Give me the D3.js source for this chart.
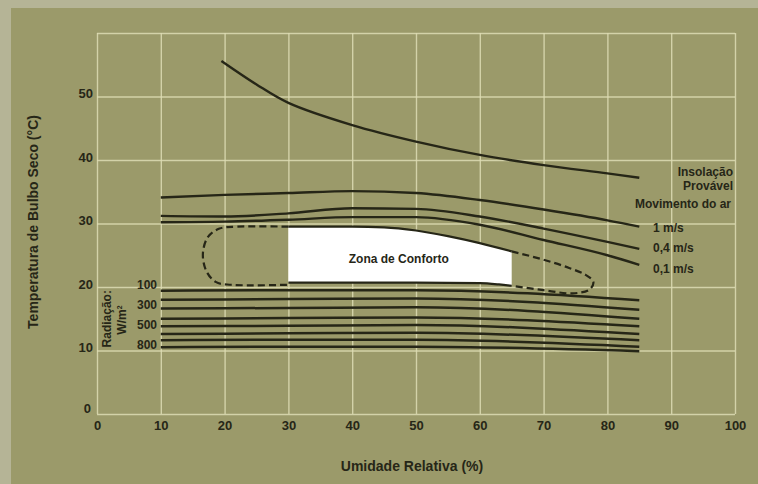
<!DOCTYPE html>
<html><head><meta charset="utf-8">
<script src="https://cdn.jsdelivr.net/npm/d3@7"></script>
<style>html,body{margin:0;padding:0;background:#b5b496;} svg{display:block}</style>
</head><body><svg id="c" width="758" height="484"></svg>
<script>
// ---- data ----
const xTicks = [0,10,20,30,40,50,60,70,80,90,100];
const yTicks = [0,10,20,30,40,50];
const yGrid = [0,10,20,30,40,50,60];

const insolX = [19.5,25,30,40,50,60,70,80,85];
const insolY = [55.6,51.9,49.0,45.5,42.9,40.8,39.2,37.9,37.2];

const airX = [10,20,30,40,50,60,70,80,85];
const air1  = [34.1,34.5,34.8,35.1,34.8,33.7,32.2,30.5,29.5];
const air04 = [31.2,31.1,31.6,32.4,32.3,31.1,29.2,27.1,26.0];
const air01 = [30.2,30.3,30.6,31.0,31.0,29.8,27.4,25.0,23.5];
const airLabels = ["1 m/s","0,4 m/s","0,1 m/s"];

const radX = [10,30,50,85];
const radLines = [
  [19.4,19.5,19.5,17.9],
  [18.0,18.1,18.2,16.4],
  [16.6,16.7,16.8,15.0],
  [15.0,15.1,15.2,13.8],
  [13.8,13.9,14.0,12.6],
  [12.6,12.7,12.8,11.6],
  [11.6,11.7,11.7,10.6],
  [10.5,10.6,10.6,9.9]
];
const radLabels = ["100","300","500","800"];
const radLabelY = [20.3,17.2,14.0,10.9];

// comfort zone (white)
const zoneTopX = [30,40,45,50,55,60,65];
const zoneTopY = [29.5,29.5,29.4,28.9,28.0,26.9,25.6];
const zoneBotX = [65,63,60,50,40,30];
const zoneBotY = [20.2,20.4,20.6,20.7,20.7,20.7];

// dashed extension loops
const dashLX = [30,22,19.2,17.4,16.6,17.1,18.6,21,30];
const dashLY = [29.5,29.5,29.2,27.9,25.3,22.6,20.8,20.35,20.35];
const dashRX = [65,70,74,76.6,77.8,77.2,74.5,70,65];
const dashRY = [25.6,24.3,23.0,21.9,20.8,19.6,19.0,19.5,20.2];

// ---- drawing ----
const svg = d3.select("#c");
const W = 758, H = 484;
const x = d3.scaleLinear([0,100],[97,735]);
const y = d3.scaleLinear([0,60],[414,33]);
const ink = "#262617";
const FONT = "'Liberation Sans', Arial, sans-serif";

svg.append("rect").attr("x",11).attr("y",8).attr("width",W-11).attr("height",H-8).attr("fill","#9b9a6a");

// grid
const gridColor = "#dddcb4";
const gx = svg.append("g").attr("transform",`translate(0,${y(0)})`)
  .call(d3.axisBottom(x).tickValues(xTicks).tickSize(-(y(0)-y(60))).tickFormat(""));
const gy = svg.append("g").attr("transform",`translate(${x(0)},0)`)
  .call(d3.axisLeft(y).tickValues(yGrid).tickSize(-(x(100)-x(0))).tickFormat(""));
[gx,gy].forEach(g=>{g.select(".domain").remove();
  g.selectAll("line").attr("stroke",gridColor).attr("stroke-width",1.4).attr("opacity",0.85);});

// tick labels
const ax = svg.append("g").attr("transform",`translate(0,${y(0)})`)
  .call(d3.axisBottom(x).tickValues(xTicks).tickSize(0).tickPadding(7).tickFormat(d3.format("d")));
const ay = svg.append("g").attr("transform",`translate(${x(0)},0)`)
  .call(d3.axisLeft(y).tickValues(yTicks).tickSize(0).tickPadding(4).tickFormat(d3.format("d")));
[ax,ay].forEach(g=>{g.select(".domain").remove();
  g.selectAll("text").attr("fill",ink).attr("font-family",FONT).attr("font-weight","bold").attr("font-size",13);});
ay.selectAll("text").attr("dy","0.1em");
ay.selectAll(".tick").filter(d=>d===0).select("text").attr("dy","-0.1em").attr("x",-6);

const line = d3.line().x(d=>x(d[0])).y(d=>y(d[1])).curve(d3.curveMonotoneX);
const smooth = d3.line().x(d=>x(d[0])).y(d=>y(d[1])).curve(d3.curveCatmullRom.alpha(0.5));
const zip = (a,b)=>a.map((v,i)=>[v,b[i]]);

// comfort zone
const topPath = line(zip(zoneTopX,zoneTopY));
const botPath = line(zip(zoneBotX,zoneBotY));
svg.append("path").attr("d", topPath + "L" + botPath.slice(1) + "Z").attr("fill","#ffffff");
svg.append("path").attr("d", topPath).attr("fill","none").attr("stroke",ink).attr("stroke-width",2.2);
svg.append("path").attr("d", botPath).attr("fill","none").attr("stroke",ink).attr("stroke-width",2.2);

// dashed loops
[[dashLX,dashLY],[dashRX,dashRY]].forEach(([a,b])=>{
  svg.append("path").attr("d",smooth(zip(a,b))).attr("fill","none")
    .attr("stroke",ink).attr("stroke-width",2.2).attr("stroke-dasharray","7,4");
});

// main curves
svg.append("path").attr("d",smooth(zip(insolX,insolY))).attr("fill","none").attr("stroke",ink).attr("stroke-width",2.4);
[air1,air04,air01].forEach(b=>{
  svg.append("path").attr("d",line(zip(airX,b))).attr("fill","none").attr("stroke",ink).attr("stroke-width",2.4);
});
radLines.forEach(r=>{
  svg.append("path").attr("d",line(zip(radX,r))).attr("fill","none").attr("stroke",ink).attr("stroke-width",2.5);
});

// text helpers
function txt(t,xx,yy,opts={}){
  return svg.append("text").text(t).attr("x",xx).attr("y",yy)
    .attr("font-family",FONT).attr("font-weight","bold").attr("font-size",opts.size||12)
    .attr("fill",ink).attr("text-anchor",opts.anchor||"start").attr("dominant-baseline","central");
}
txt("Zona de Conforto", x(47.3), y(24.4), {anchor:"middle"});
txt("Insolação", 733, 172, {anchor:"end"});
txt("Provável", 733, 186, {anchor:"end"});
txt("Movimento do ar", 731, 204, {anchor:"end"});
airLabels.forEach((l,i)=>txt(l, 653, [228,248,269][i]));

radLabels.forEach((l,i)=>txt(l, 157, y(radLabelY[i]), {anchor:"end"}));
svg.append("text").text("Radiação:").attr("transform",`translate(107,${y(15.0)}) rotate(-90)`)
  .attr("font-family",FONT).attr("font-weight","bold").attr("font-size",12).attr("fill",ink)
  .attr("text-anchor","middle").attr("dominant-baseline","central");
const wm = svg.append("text").attr("transform",`translate(122,${y(14.8)}) rotate(-90)`)
  .attr("font-family",FONT).attr("font-weight","bold").attr("font-size",12).attr("fill",ink)
  .attr("text-anchor","middle").attr("dominant-baseline","central");
wm.append("tspan").text("W/m");
wm.append("tspan").text("2").attr("font-size",7).attr("dy","-0.5em");

// axis titles
svg.append("text").text("Umidade Relativa (%)").attr("x",412).attr("y",466)
  .attr("font-family",FONT).attr("font-weight","bold").attr("font-size",14).attr("fill",ink)
  .attr("text-anchor","middle").attr("dominant-baseline","central");
svg.append("text").text("Temperatura de Bulbo Seco (°C)").attr("transform","translate(33,222) rotate(-90)")
  .attr("font-family",FONT).attr("font-weight","bold").attr("font-size",14).attr("fill",ink)
  .attr("text-anchor","middle").attr("dominant-baseline","central");
</script></body></html>
